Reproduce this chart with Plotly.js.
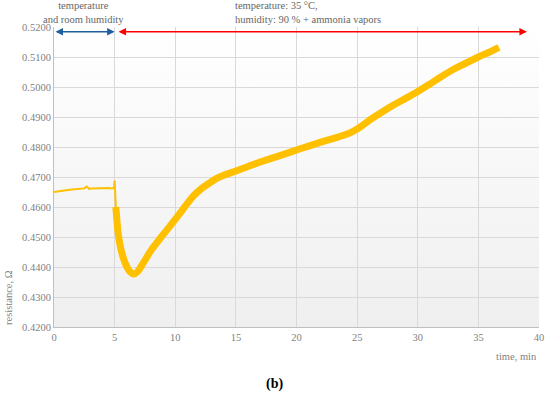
<!DOCTYPE html>
<html>
<head>
<meta charset="utf-8">
<script src="https://cdn.plot.ly/plotly-3.0.1.min.js"></script>
<style>
  body{margin:0;padding:0;background:#fff;}
  #graph{width:550px;height:398px;}
</style>
</head>
<body>
<div id="graph"></div>
<script>
// room conditions, first 5 min (ends with the spike when the gas is let in)
var timeRoom = [0, 0.5, 1, 1.5, 2, 2.5, 2.7, 2.9, 3.1, 3.5, 4, 4.5, 4.8, 4.95, 5.0, 5.05, 5.1];
var resRoom = [0.4650, 0.4654, 0.4656, 0.4658, 0.4660, 0.4662, 0.4668, 0.4660, 0.4662, 0.4663, 0.4664, 0.4663, 0.4662, 0.4664, 0.4688, 0.4640, 0.4600];

// 35 °C, 90 % humidity + ammonia vapors
var timeGas = [5.1, 5.2, 5.3, 5.45, 5.6, 5.75, 5.9, 6.1, 6.3, 6.5, 6.7, 6.9, 7.1, 7.4, 7.7, 8.0, 8.5, 9.0, 9.5, 10, 10.5, 11, 11.5, 12, 12.5, 13, 13.5, 14, 14.5, 15, 16, 17, 18, 19, 20, 21, 22, 23, 24, 24.5, 25, 25.5, 26, 27, 28, 29, 30, 31, 32, 33, 34, 35, 36, 36.7];
var resGas = [0.4600, 0.4550, 0.4510, 0.4472, 0.4446, 0.4426, 0.4410, 0.4394, 0.4383, 0.4377, 0.4378, 0.4385, 0.4396, 0.4416, 0.4436, 0.4455, 0.4482, 0.4508, 0.4533, 0.4559, 0.4585, 0.4612, 0.4637, 0.4656, 0.4671, 0.4685, 0.4697, 0.4706, 0.4713, 0.4720, 0.4735, 0.4750, 0.4763, 0.4776, 0.4790, 0.4803, 0.4816, 0.4828, 0.4841, 0.4849, 0.4860, 0.4874, 0.4889, 0.4915, 0.4940, 0.4962, 0.4985, 0.5010, 0.5036, 0.5060, 0.5080, 0.5100, 0.5118, 0.5132];

var xTicks = [0, 5, 10, 15, 20, 25, 30, 35, 40];
var yTicks = [0.42, 0.43, 0.44, 0.45, 0.46, 0.47, 0.48, 0.49, 0.50, 0.51, 0.52];

var serif = '"Liberation Serif"';
var grey = '#7f7f7f';

// white-to-grey fill behind the plot area, like the spreadsheet chart
var bgSvg = "<svg xmlns='http://www.w3.org/2000/svg' width='10' height='100' preserveAspectRatio='none'>" +
  "<defs><linearGradient id='g' x1='0' y1='0' x2='0' y2='1'>" +
  "<stop offset='0' stop-color='#ffffff'/><stop offset='1' stop-color='#efefef'/>" +
  "</linearGradient></defs><rect width='10' height='100' fill='url(#g)'/></svg>";

var data = [
  {
    x: timeRoom, y: resRoom,
    type: 'scatter', mode: 'lines',
    line: {color: '#ffc000', width: 2},
    hoverinfo: 'none'
  },
  {
    x: timeGas, y: resGas,
    type: 'scatter', mode: 'lines',
    line: {color: '#ffc000', width: 7, shape: 'spline', smoothing: 0.6},
    hoverinfo: 'none'
  }
];

var layout = {
  width: 550,
  height: 398,
  showlegend: false,
  paper_bgcolor: '#ffffff',
  plot_bgcolor: 'rgba(0,0,0,0)',
  margin: {l: 54, r: 11, t: 27, b: 71},
  font: {family: serif, size: 10, color: grey},
  images: [{
    source: 'data:image/svg+xml;charset=utf-8,' + encodeURIComponent(bgSvg),
    xref: 'paper', yref: 'paper',
    x: 0, y: 1, sizex: 1, sizey: 1,
    xanchor: 'left', yanchor: 'top',
    sizing: 'stretch', layer: 'below'
  }],
  xaxis: {
    range: [0, 40],
    tickvals: xTicks,
    showgrid: true,
    gridcolor: '#d9d9d9',
    zeroline: false,
    showline: true,
    linecolor: '#bfbfbf',
    ticks: '',
    tickfont: {family: serif, size: 10.5, color: grey}
  },
  yaxis: {
    range: [0.42, 0.52],
    tickvals: yTicks,
    tickformat: '.4f',
    showgrid: true,
    gridcolor: '#d9d9d9',
    zeroline: false,
    showline: true,
    linecolor: '#bfbfbf',
    ticks: '',
    tickfont: {family: serif, size: 10.5, color: grey}
  },
  annotations: [
    // blue double arrow over the room-condition part
    {
      x: 5, y: 0.5184, ax: 0, ay: 0.5184,
      xref: 'x', yref: 'y', axref: 'x', ayref: 'y',
      text: '', showarrow: true, arrowside: 'end+start',
      arrowhead: 2, arrowsize: 1, arrowwidth: 1.5, arrowcolor: '#1f5f9e'
    },
    // red double arrow over the exposure part
    {
      x: 39, y: 0.5184, ax: 5.2, ay: 0.5184,
      xref: 'x', yref: 'y', axref: 'x', ayref: 'y',
      text: '', showarrow: true, arrowside: 'end+start',
      arrowhead: 2, arrowsize: 1, arrowwidth: 1.5, arrowcolor: '#ff0000'
    },
    {
      x: 2.45, y: 1.0, xref: 'x', yref: 'paper',
      xanchor: 'center', yanchor: 'bottom', yshift: 0,
      text: 'temperature<br>and room humidity', showarrow: false, align: 'center',
      font: {family: serif, size: 10.5, color: '#666666'}
    },
    {
      x: 14.8, y: 1.0, xref: 'x', yref: 'paper',
      xanchor: 'left', yanchor: 'bottom', yshift: 0,
      text: 'temperature: 35 °C,<br>humidity: 90 % + ammonia vapors', showarrow: false, align: 'left',
      font: {family: serif, size: 10.5, color: '#666666'}
    },
    {
      x: 1.0, y: 0, xref: 'paper', yref: 'paper',
      xanchor: 'right', yanchor: 'top', yshift: -22,
      text: 'time, min', showarrow: false,
      font: {family: serif, size: 10.5, color: grey}
    },
    {
      x: -0.094, y: 0, xref: 'paper', yref: 'paper',
      xanchor: 'center', yanchor: 'bottom', textangle: -90,
      text: 'resistance, Ω', showarrow: false,
      font: {family: serif, size: 10.5, color: grey}
    },
    {
      x: 0.455, y: 0, xref: 'paper', yref: 'paper',
      xanchor: 'center', yanchor: 'top', yshift: -47,
      text: '<b>(b)</b>', showarrow: false,
      font: {family: serif, size: 14, color: '#000000'}
    }
  ]
};

Plotly.newPlot('graph', data, layout, {displayModeBar: false, staticPlot: true});
</script>
</body>
</html>
